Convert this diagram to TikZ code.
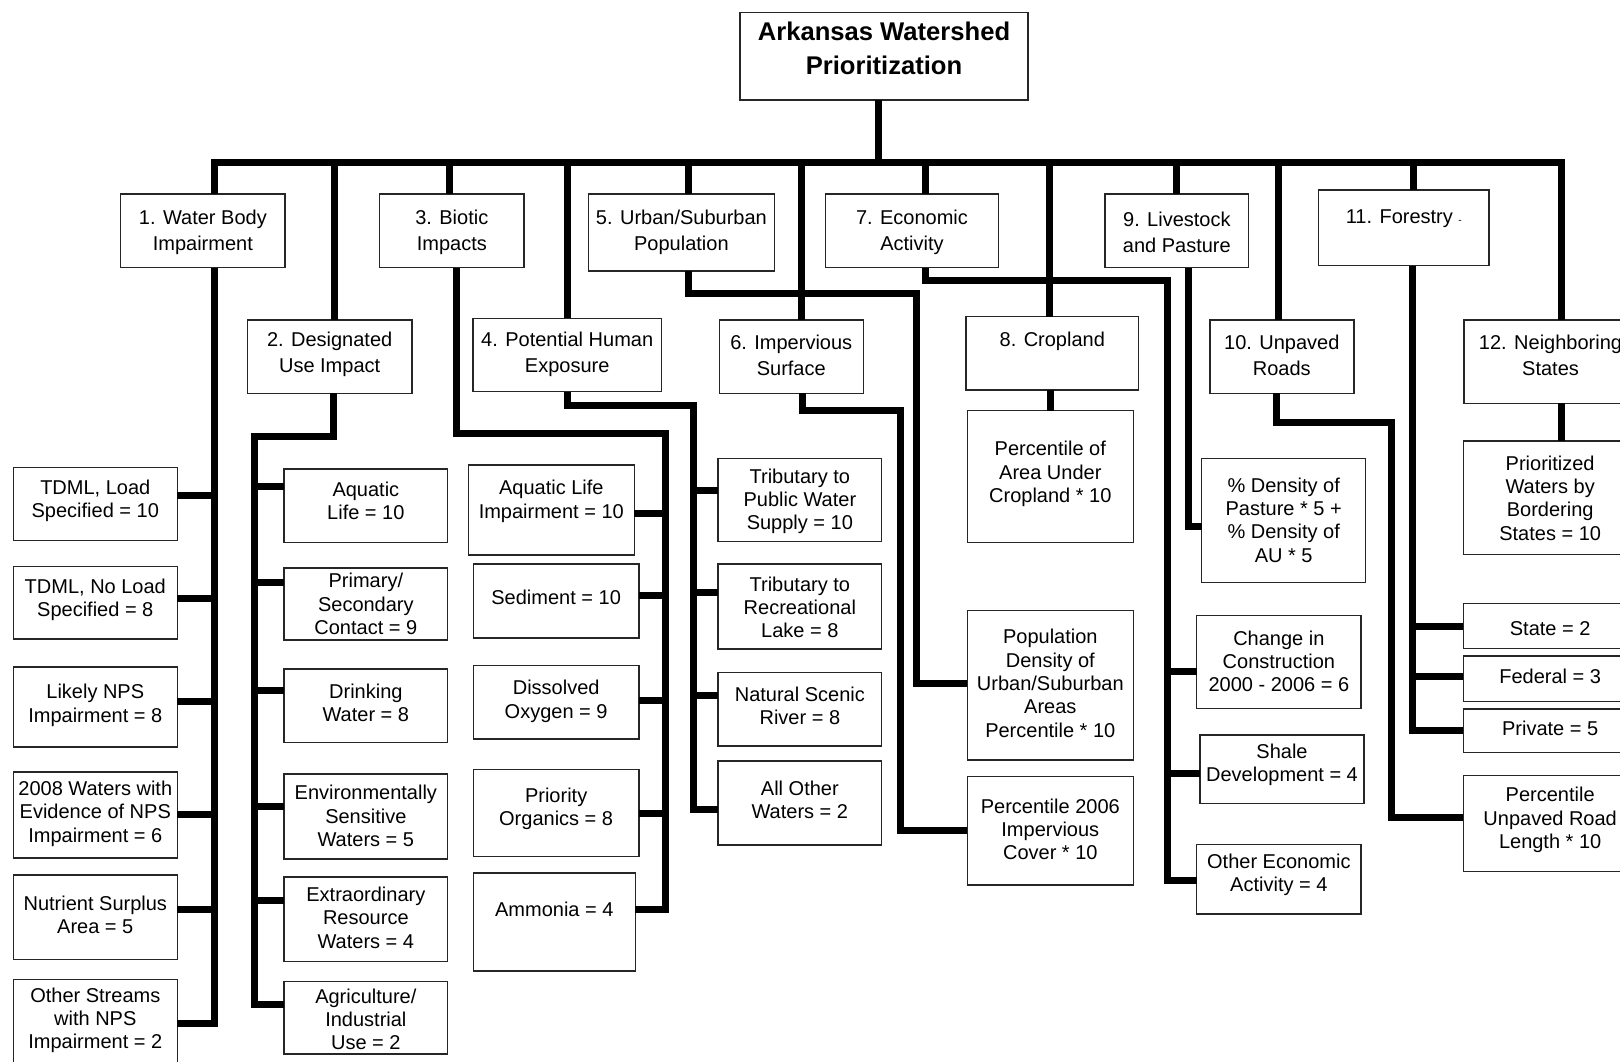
\documentclass[tikz,border=0pt]{standalone}
\usepackage{fontspec}
\setmainfont{Liberation Sans}
\tikzset{
  bx/.style={draw=black!85, line width=0.7pt, fill=white, inner sep=0pt, outer sep=0pt},
  txt/.style={align=center, inner sep=0pt, font=\fontsize{10}{11.65}\selectfont},
  txtA/.style={align=center, inner sep=0pt, font=\fontsize{10}{13}\selectfont},
  ttl/.style={align=center, inner sep=0pt, font=\bfseries\fontsize{12.8}{17}\selectfont},
  conn/.style={line width=3.5pt, draw=black},
}
% style, name, x1, y1, x2, y2, text-centre-y, text
\newcommand\mybox[8]{%
  \node[bx, minimum width={(#5-#3)*0.5pt}, minimum height={(#6-#4)*0.5pt}] (#2) at ({(#3+#5)/2},{(#4+#6)/2}) {};
  \node[#1] (#2t) at ({(#3+#5)/2},#7) {#8};}
\begin{document}
\begin{tikzpicture}[x=0.5pt,y=-0.5pt]
\useasboundingbox (0,0) rectangle (1620,1061);
\clip (0,0) rectangle (1620,1061);
\fill[white] (0,0) rectangle (1620,1061);

% ---------- boxes ----------
\mybox{ttl}{top}{740}{12.4}{1028}{100}{48}{Arkansas Watershed\\Prioritization}

\mybox{txtA}{b1}{120.7}{194}{285}{267.7}{232}{1. Water Body\\Impairment}
\mybox{txtA}{b2}{247.5}{320}{411.8}{393.3}{354.3}{2. Designated\\Use Impact}
\mybox{txtA}{b3}{379.6}{194}{524}{267.7}{232}{3. Biotic\\Impacts}
\mybox{txtA}{b4}{473}{318.3}{661.4}{391.7}{354.4}{4. Potential Human\\Exposure}
\mybox{txtA}{b5}{588.2}{194}{774.6}{271}{232}{5. Urban/Suburban\\Population}
\mybox{txtA}{b6}{719.3}{320}{863.2}{393.3}{355}{6. Impervious\\Surface}
\mybox{txtA}{b7}{825.7}{194}{998.2}{267.7}{232}{7. Economic\\Activity}
\mybox{txtA}{b8}{966}{316.7}{1138.6}{390}{341.7}{8. Cropland}
\mybox{txtA}{b9}{1105}{194}{1248.7}{267.7}{232}{9. Livestock\\and Pasture}
\mybox{txtA}{b10}{1209.8}{320}{1353.8}{393.3}{355}{10. Unpaved\\Roads}
\mybox{txtA}{b11}{1318.6}{190}{1489}{265.7}{219}{11. Forestry {\tiny-}}
\mybox{txtA}{b12}{1464}{320}{1637}{403.3}{355}{12. Neighboring\\States}

\mybox{txt}{c1a}{13.3}{467.7}{177.3}{540.2}{501}{TDML, Load\\Specified = 10}
\mybox{txt}{c1b}{13.3}{566.7}{177.3}{638.8}{599.6}{TDML, No Load\\Specified = 8}
\mybox{txt}{c1c}{13.3}{666.9}{177.3}{746.9}{705.3}{Likely NPS\\Impairment = 8}
\mybox{txt}{c1d}{13.3}{771.9}{177.3}{857.8}{813.7}{2008 Waters with\\Evidence of NPS\\Impairment = 6}
\mybox{txt}{c1e}{13.3}{874.9}{177.3}{959.6}{914.5}{Nutrient Surplus\\Area = 5}
\mybox{txt}{c1f}{13.3}{979.4}{177.3}{1070}{1020.2}{Other Streams\\with NPS\\Impairment = 2}

\mybox{txt}{c2a}{284}{468.9}{447.7}{542.2}{501}{Aquatic\\Life = 10}
\mybox{txt}{c2b}{284}{567.9}{447.7}{640}{604.1}{Primary/\\Secondary\\Contact = 9}
\mybox{txt}{c2c}{284}{668.9}{447.7}{742.2}{703}{Drinking\\Water = 8}
\mybox{txt}{c2d}{284}{773.9}{447.7}{859}{816}{Environmentally\\Sensitive\\Waters = 5}
\mybox{txt}{c2e}{284}{876.8}{447.7}{961.6}{917.6}{Extraordinary\\Resource\\Waters = 4}
\mybox{txt}{c2f}{284}{981.4}{447.7}{1053.9}{1019.2}{Agriculture/\\Industrial\\Use = 2}

\mybox{txt}{c3a}{468.3}{465}{634.3}{555}{501.3}{Aquatic Life\\Impairment = 10}
\mybox{txt}{c3b}{473.3}{564}{639}{638}{597.3}{Sediment = 10}
\mybox{txt}{c3c}{473.3}{665.7}{639}{739}{701.3}{Dissolved\\Oxygen = 9}
\mybox{txt}{c3d}{473.3}{769.3}{639}{856.7}{809}{Priority\\Organics = 8}
\mybox{txt}{c3e}{473.2}{873}{635.4}{971}{909.2}{Ammonia = 4}

\mybox{txt}{c4a}{718}{458.3}{881.7}{541.7}{501.4}{Tributary to\\Public Water\\Supply = 10}
\mybox{txt}{c4b}{718}{564}{881.7}{649}{607.3}{Tributary to\\Recreational\\Lake = 8}
\mybox{txt}{c4c}{718}{672.3}{881.7}{746}{706}{Natural Scenic\\River = 8}
\mybox{txt}{c4d}{718}{761}{881.7}{845}{799.7}{All Other\\Waters = 2}

\mybox{txt}{c8a}{967.3}{410.7}{1133.3}{542.3}{474}{Percentile of\\Area Under\\Cropland * 10}
\mybox{txt}{c5a}{967.3}{610.7}{1133.3}{760}{683.3}{Population\\Density of\\Urban/Suburban\\Areas\\Percentile * 10}
\mybox{txt}{c6a}{967.3}{776.7}{1133.3}{885}{829.3}{Percentile 2006\\Impervious\\Cover * 10}

\mybox{txt}{c9a}{1201.7}{458.3}{1365.7}{582.3}{520}{\% Density of\\Pasture * 5 +\\\% Density of\\AU * 5}

\mybox{txt}{c7a}{1196.7}{615.7}{1361}{708.3}{661.3}{Change in\\Construction\\2000 - 2006 = 6}
\mybox{txt}{c7b}{1200}{735}{1364}{803.3}{765}{Shale\\Development = 4}
\mybox{txt}{c7c}{1196.7}{844.3}{1361}{914}{875}{Other Economic\\Activity = 4}

\mybox{txt}{c12a}{1463.3}{441}{1637}{554.3}{498}{Prioritized\\Waters by\\Bordering\\States = 10}
\mybox{txt}{c11a}{1463.3}{603.3}{1637}{648.3}{628.3}{State = 2}
\mybox{txt}{c11b}{1463.3}{656}{1637}{701.7}{676.7}{Federal = 3}
\mybox{txt}{c11c}{1463.3}{709}{1637}{752.3}{728.3}{Private = 5}
\mybox{txt}{c10a}{1463.3}{775.7}{1637}{871.7}{820}{Percentile\\Unpaved Road\\Length * 10}

% ---------- bus ----------
\coordinate (busL) at (214.3,162.7);
\coordinate (busR) at (1561,162.7);
\coordinate (trk) at (878.6,162.7);
\coordinate (k2) at (334.6,162.7);
\coordinate (k3) at (449,162.7);
\coordinate (k4) at (567.9,162.7);
\coordinate (k5) at (688.2,162.7);
\coordinate (k6) at (801.4,162.7);
\coordinate (k7) at (925,162.7);
\coordinate (k8) at (1049,162.7);
\coordinate (k9) at (1176.4,162.7);
\coordinate (k10) at (1278.7,162.7);
\coordinate (k11) at (1413,162.7);

\draw[conn] (trk) -- (trk |- top.south);
\draw[conn] (busL |- b1.north) -- (busL) -- (busR) -- (busR |- b12.north);
\foreach \k in {2,...,11} {\draw[conn] (k\k) -- (k\k |- b\k.north);}

% ---------- 1 ----------
\draw[conn] (busL |- b1.south) |- (c1f.east |- 0,1023.4);
\foreach \n/\y in {c1a/495.4, c1b/598.4, c1c/701.4, c1d/814.3, c1e/909.3}
  {\draw[conn] (busL |- 0,\y) -- (\n.east |- 0,\y);}

% ---------- 2 ----------
\coordinate (e2) at (333.5,436.7);
\coordinate (s2) at (254,436.7);
\draw[conn] (e2 |- b2.south) -- (e2) -- (s2) |- (c2f.west |- 0,1004.3);
\foreach \n/\y in {c2a/486.7, c2b/582.6, c2c/690.3, c2d/806.3, c2e/900.6}
  {\draw[conn] (s2 |- 0,\y) -- (\n.west |- 0,\y);}

% ---------- 3 ----------
\coordinate (e3) at (456,433.3);
\coordinate (s3) at (665,433.3);
\draw[conn] (e3 |- b3.south) -- (e3) -- (s3) |- (c3e.east |- 0,909.2);
\foreach \n/\y in {c3a/513.3, c3b/595, c3c/700, c3d/813.3}
  {\draw[conn] (s3 |- 0,\y) -- (\n.east |- 0,\y);}

% ---------- 4 ----------
\coordinate (e4) at (567.8,405);
\coordinate (s4) at (693.5,405);
\draw[conn] (e4 |- b4.south) -- (e4) -- (s4) |- (c4d.west |- 0,809.3);
\foreach \n/\y in {c4a/490.7, c4b/592.3, c4c/695}
  {\draw[conn] (s4 |- 0,\y) -- (\n.west |- 0,\y);}

% ---------- 5 ----------
\coordinate (e5) at (688,293.3);
\coordinate (s5) at (916,293.3);
\draw[conn] (e5 |- b5.south) -- (e5) -- (s5) |- (c5a.west |- 0,683.3);

% ---------- 6 ----------
\coordinate (e6) at (802.5,410);
\coordinate (s6) at (900.7,410);
\draw[conn] (e6 |- b6.south) -- (e6) -- (s6) |- (c6a.west |- 0,830);

% ---------- 7 ----------
\coordinate (e7) at (925.7,280);
\coordinate (s7) at (1167.5,280);
\draw[conn] (e7 |- b7.south) -- (e7) -- (s7) |- (c7c.west |- 0,880);
\foreach \n/\y in {c7a/671.7, c7b/773.3}
  {\draw[conn] (s7 |- 0,\y) -- (\n.west |- 0,\y);}

% ---------- 8 ----------
\draw[conn] (c8a.north |- b8.south) -- (c8a.north);

% ---------- 9 ----------
\coordinate (e9) at (1188.4,526.7);
\draw[conn] (e9 |- b9.south) -- (e9) -- (c9a.west |- e9);

% ---------- 10 ----------
\coordinate (e10) at (1276.3,422.7);
\coordinate (s10) at (1391.7,422.7);
\draw[conn] (e10 |- b10.south) -- (e10) -- (s10) |- (c10a.west |- 0,817.7);

% ---------- 11 ----------
\coordinate (e11) at (1412.6,730);
\draw[conn] (e11 |- b11.south) -- (e11) -- (c11c.west |- e11);
\foreach \n/\y in {c11a/626.7, c11b/676}
  {\draw[conn] (e11 |- 0,\y) -- (\n.west |- 0,\y);}

% ---------- 12 ----------
\draw[conn] (busR |- b12.south) -- (busR |- c12a.north);
\end{tikzpicture}
\end{document}
